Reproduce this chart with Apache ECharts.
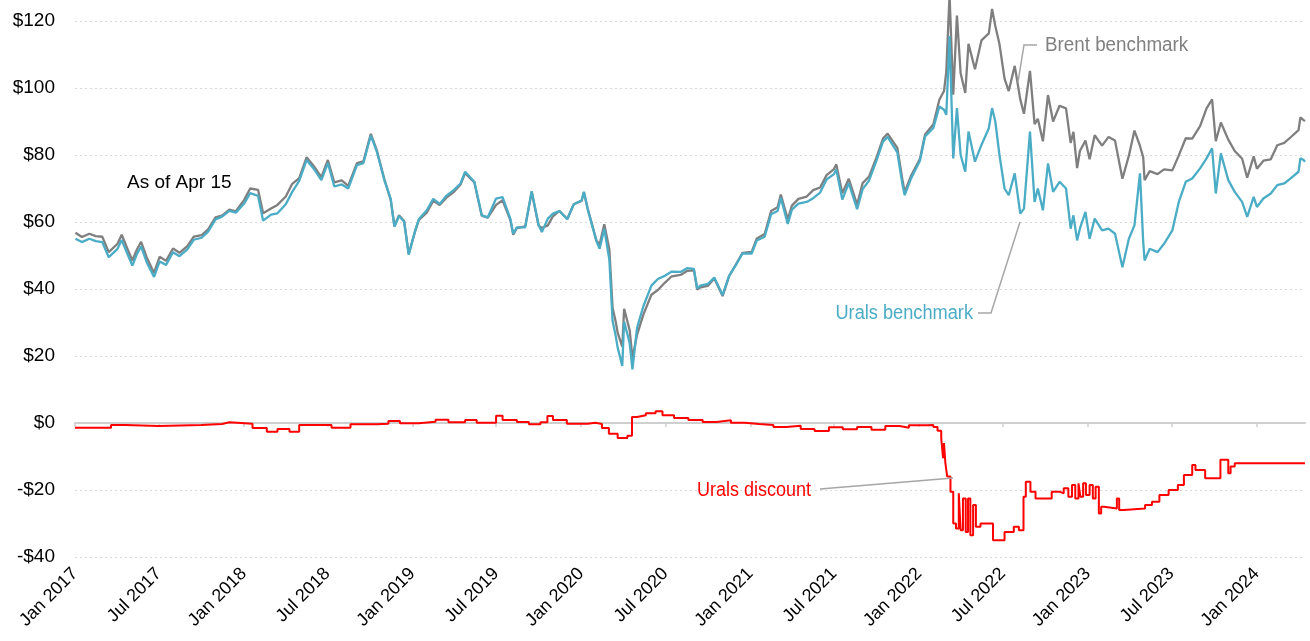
<!DOCTYPE html>
<html><head><meta charset="utf-8">
<script src="https://cdn.jsdelivr.net/npm/echarts@6/dist/echarts.min.js"></script>
<style>html,body{margin:0;padding:0;background:#fff}#c{width:1310px;height:641px}</style>
</head><body><div id="c"></div>
<script>
const dates = [
'2017-01-02','2017-01-16','2017-02-01','2017-02-15','2017-03-01','2017-03-15','2017-04-03','2017-04-12','2017-04-25','2017-05-05','2017-05-15','2017-05-24','2017-06-05','2017-06-21','2017-07-03','2017-07-17','2017-08-01','2017-08-15','2017-09-01','2017-09-15','2017-10-02','2017-10-16','2017-11-01','2017-11-15','2017-12-01','2017-12-15',
'2018-01-02','2018-01-15','2018-02-01','2018-02-12','2018-03-01','2018-03-15','2018-04-02','2018-04-16','2018-05-01','2018-05-17','2018-06-01','2018-06-18','2018-07-02','2018-07-16','2018-08-01','2018-08-15','2018-09-03','2018-09-17','2018-10-03','2018-10-16','2018-11-01','2018-11-15','2018-11-23','2018-12-03','2018-12-14','2018-12-24',
'2019-01-07','2019-01-15','2019-02-01','2019-02-15','2019-03-01','2019-03-15','2019-04-01','2019-04-15','2019-04-25','2019-05-15','2019-05-31','2019-06-13','2019-07-01','2019-07-15','2019-08-01','2019-08-07','2019-08-15','2019-09-02','2019-09-16','2019-10-01','2019-10-08','2019-10-21','2019-11-01','2019-11-15','2019-12-02','2019-12-16',
'2020-01-02','2020-01-07','2020-01-15','2020-02-03','2020-02-10','2020-02-20','2020-03-02','2020-03-09','2020-03-16','2020-03-20','2020-03-30','2020-04-03','2020-04-15','2020-04-21','2020-05-01','2020-05-15','2020-06-01','2020-06-15','2020-07-01','2020-07-15','2020-08-03','2020-08-17','2020-09-01','2020-09-08','2020-09-15','2020-10-01','2020-10-15','2020-11-02','2020-11-16','2020-12-01','2020-12-15',
'2021-01-04','2021-01-15','2021-02-01','2021-02-15','2021-03-01','2021-03-08','2021-03-23','2021-04-01','2021-04-15','2021-05-03','2021-05-17','2021-06-01','2021-06-15','2021-07-01','2021-07-06','2021-07-19','2021-08-02','2021-08-20','2021-09-01','2021-09-15','2021-10-01','2021-10-15','2021-10-25','2021-11-15','2021-11-26','2021-12-01','2021-12-15',
'2022-01-03','2022-01-14','2022-02-01','2022-02-14','2022-02-24','2022-03-01','2022-03-08','2022-03-16','2022-03-24','2022-04-01','2022-04-11','2022-04-18','2022-05-02','2022-05-16','2022-06-01','2022-06-08','2022-06-15','2022-06-24','2022-07-05','2022-07-14','2022-07-27','2022-08-08','2022-08-16','2022-08-29','2022-09-08','2022-09-15','2022-09-26','2022-10-07','2022-10-18','2022-11-01','2022-11-15','2022-11-25','2022-12-01','2022-12-09','2022-12-15','2022-12-27',
'2023-01-05','2023-01-16','2023-02-01','2023-02-15','2023-03-01','2023-03-17','2023-03-31','2023-04-12','2023-04-24','2023-05-01','2023-05-04','2023-05-15','2023-06-01','2023-06-15','2023-07-03','2023-07-17','2023-08-01','2023-08-15','2023-09-01','2023-09-15','2023-09-27','2023-10-05','2023-10-16','2023-11-01','2023-11-15','2023-12-01','2023-12-12','2023-12-26',
'2024-01-02','2024-01-16','2024-02-01','2024-02-15','2024-03-01','2024-03-15','2024-04-01','2024-04-05','2024-04-12','2024-04-15'
];
const brent = [
56.8,55.5,56.5,55.8,55.6,51.0,53.5,56.2,51.8,48.5,51.8,54.1,49.5,44.8,49.6,48.4,52.1,50.8,52.8,55.6,56.1,57.8,61.4,61.9,63.7,63.2,
66.6,70.0,69.6,62.6,64.0,65.1,67.6,71.4,73.1,79.3,76.8,73.4,78.5,71.8,72.4,70.8,77.6,78.1,86.3,81.4,72.9,66.6,58.8,62.0,60.3,50.5,
57.3,60.6,62.8,66.3,65.1,67.2,69.0,71.2,74.6,71.8,61.9,61.3,65.1,66.5,60.5,56.2,58.2,58.7,69.0,58.9,58.2,59.0,61.7,63.3,60.9,65.3,
66.3,68.9,64.0,54.5,53.3,59.3,51.9,34.4,30.1,26.9,22.8,34.1,27.7,19.3,26.4,32.5,38.3,39.7,42.0,43.8,44.2,45.4,45.6,39.8,40.5,40.9,43.2,37.9,43.8,47.4,50.8,
51.1,55.1,56.4,63.3,64.4,68.2,60.8,64.9,66.9,67.6,69.5,70.3,74.0,75.8,77.2,68.6,72.9,65.2,71.6,73.6,79.3,84.9,86.4,82.1,72.7,68.9,73.9,
78.9,86.1,89.2,96.5,99.1,104.9,127.9,98.0,121.6,104.4,98.5,113.2,105.6,114.2,116.3,123.6,118.5,113.1,102.8,99.1,106.6,96.6,92.3,105.1,89.2,90.8,84.1,97.9,90.0,94.7,93.9,83.6,86.9,76.1,81.2,84.3,
78.7,85.9,82.8,85.4,84.3,72.9,79.8,87.3,82.7,79.3,72.5,75.2,74.3,75.7,75.4,79.9,85.0,84.9,88.6,93.9,96.6,84.1,89.7,84.6,81.2,78.9,73.2,79.6,
75.9,78.3,78.7,82.9,83.6,85.3,87.4,91.2,90.4,90.1
];
const urals = [
55.0,54.0,55.0,54.3,54.0,49.5,52.0,54.6,50.3,47.0,50.4,52.7,48.0,43.6,48.2,47.2,51.0,49.8,51.8,54.7,55.3,57.1,60.8,61.6,63.3,62.8,
65.5,68.6,67.8,60.4,62.2,62.6,65.3,69.0,72.3,78.5,76.0,72.5,77.6,70.6,71.2,70.0,77.0,77.6,85.8,81.0,72.6,66.9,58.6,61.8,60.1,50.2,
57.5,60.9,63.5,66.9,65.4,67.8,69.6,71.5,75.0,72.0,62.0,61.4,67.0,67.4,60.9,56.5,58.4,58.4,69.2,59.1,57.0,61.0,62.5,63.3,60.8,65.3,
66.4,69.0,64.0,54.3,52.0,58.0,48.8,30.5,25.8,22.5,17.0,30.3,23.8,16.0,28.5,35.0,41.0,43.0,44.0,45.2,45.1,46.2,46.0,40.2,41.0,41.5,43.4,38.2,43.9,47.2,50.6,
50.6,54.5,55.6,62.3,63.3,67.2,59.4,63.7,65.5,66.0,67.1,68.8,72.7,74.3,75.7,66.7,71.6,63.8,69.8,72.4,78.3,84.0,85.4,80.8,71.3,68.0,73.1,
78.3,85.5,88.1,94.5,93.5,92.0,115.5,79.0,94.0,80.0,75.0,87.0,78.0,83.0,88.0,94.0,90.0,80.0,70.0,68.0,74.5,62.5,64.0,87.0,66.0,70.0,63.5,77.5,69.0,72.0,70.0,58.0,62.0,54.5,58.0,63.0,
55.0,61.0,57.5,58.0,56.5,46.5,55.0,59.0,74.5,54.0,48.5,52.0,51.0,53.5,57.5,66.0,72.0,73.0,76.0,79.0,82.0,68.5,80.5,72.5,69.0,66.0,61.5,67.5,
64.5,67.0,68.5,71.0,71.5,73.0,75.0,79.0,78.5,78.0
];
const discDates = [
'2017-01-01','2017-03-20','2017-04-20','2017-07-01','2017-10-01','2017-11-15','2017-12-01',
'2018-01-20','2018-02-20','2018-03-15','2018-04-10','2018-05-01','2018-07-10','2018-08-20','2018-10-15','2018-11-10','2018-12-05',
'2019-01-15','2019-02-20','2019-03-20','2019-04-25','2019-05-20','2019-07-01','2019-07-15','2019-08-15','2019-09-10','2019-10-05','2019-10-20','2019-11-01','2019-12-01',
'2020-01-15','2020-02-01','2020-02-15','2020-03-01','2020-03-20','2020-04-10','2020-04-20','2020-05-01','2020-05-20','2020-06-10','2020-06-25','2020-07-20','2020-08-20','2020-09-20','2020-10-20','2020-11-20','2020-12-20',
'2021-01-20','2021-02-20','2021-03-20','2021-04-20','2021-05-20','2021-06-20','2021-07-20','2021-08-20','2021-09-20','2021-10-20','2021-11-20','2021-12-10',
'2022-01-20','2022-02-01','2022-02-10','2022-02-18','2022-02-22','2022-02-24','2022-02-27','2022-03-03','2022-03-10','2022-03-16','2022-03-22','2022-03-28','2022-04-01','2022-04-06','2022-04-12','2022-04-17','2022-04-22','2022-04-28','2022-05-04','2022-05-14','2022-06-10','2022-07-05','2022-07-25','2022-08-05','2022-08-15','2022-08-20','2022-08-30','2022-09-10','2022-10-15','2022-11-01','2022-11-10','2022-11-20','2022-11-28','2022-12-05','2022-12-12','2022-12-16','2022-12-22','2022-12-28',
'2023-01-05','2023-01-12','2023-01-18','2023-01-25','2023-01-30','2023-02-05','2023-03-05','2023-03-10','2023-03-20','2023-05-05','2023-05-20','2023-06-05','2023-06-25','2023-07-15','2023-07-28','2023-08-15','2023-08-22','2023-09-12','2023-10-15','2023-11-01','2023-11-06','2023-11-15',
'2024-04-15'
];
const discount = [
-1.4,-0.6,-0.9,-0.6,-0.3,0.2,-0.2,
-1.5,-2.6,-1.8,-2.6,-0.6,-1.4,-0.4,-0.2,0.6,-0.1,
0.4,1.0,0.2,0.9,0.1,2.2,0.9,0.3,-0.4,0.2,2.1,0.9,-0.2,
0.1,-0.3,-1.5,-3.2,-4.5,-3.8,1.8,2.3,2.9,3.5,2.3,1.5,0.9,0.3,0.8,0.1,-0.3,
-0.6,-1.2,-0.8,-1.8,-2.4,-1.3,-1.9,-1.2,-2.0,-0.9,-1.4,-0.7,
-0.6,-1.2,-2.3,-4.5,-10.5,-6.0,-12.0,-16.0,-20.5,-30.0,-31.5,-21.0,-32.0,-22.5,-32.5,-22.5,-33.5,-24.5,-31.0,-30.0,-35.0,-32.5,-31.0,-32.0,-22.0,-17.5,-20.5,-22.5,-20.5,-21.0,-19.5,-22.0,-18.5,-22.5,-18.0,-22.0,-18.0,-21.5,
-18.5,-22.5,-19.0,-27.0,-25.0,-25.5,-22.5,-26.0,-25.5,-24.5,-23.5,-21.5,-20.0,-18.5,-15.5,-12.5,-14.0,-16.5,-11.0,-15.0,-13.0,-12.0,
-12.0
];
const tickDates = ['2017-01-01','2017-07-01','2018-01-01','2018-07-01','2019-01-01','2019-07-01','2020-01-01','2020-07-01','2021-01-01','2021-07-01','2022-01-01','2022-07-01','2023-01-01','2023-07-01','2024-01-01'];
const tickLabels = ['Jan 2017','Jul 2017','Jan 2018','Jul 2018','Jan 2019','Jul 2019','Jan 2020','Jul 2020','Jan 2021','Jul 2021','Jan 2022','Jul 2022','Jan 2023','Jul 2023','Jan 2024'];

if (dates.length !== brent.length || dates.length !== urals.length) throw new Error('len mismatch ' + dates.length + ' ' + brent.length + ' ' + urals.length);
if (discDates.length !== discount.length) throw new Error('disc len mismatch ' + discDates.length + ' ' + discount.length);

function ts(s){const p=s.split('-').map(Number);return Date.UTC(p[0],p[1]-1,p[2]);}
const tickTs = tickDates.map(ts);
const xMin = ts('2017-01-01'), xMax = ts('2024-04-15');
const regular = '"Liberation Sans",Arial,sans-serif';

const chart = echarts.init(document.getElementById('c'), null, {renderer:'canvas'});
chart.setOption({
  animation:false,
  backgroundColor:'#ffffff',
  grid:{left:75,right:5,top:21,bottom:84,containLabel:false,outerBoundsMode:'none'},
  xAxis:[
    {type:'value',min:xMin,max:xMax,position:'bottom',
     axisLine:{show:false,onZero:false},axisTick:{show:false},splitLine:{show:false},
     axisLabel:{customValues:tickTs,rotate:45,margin:14,color:'#000',fontFamily:regular,fontSize:18,
       formatter:function(v){const i=tickTs.indexOf(v);return i>=0?tickLabels[i]:'';}}},
    {type:'value',min:xMin,max:xMax,position:'top',
     axisLine:{show:true,onZero:true,lineStyle:{color:'#cfcfcf',width:2}},
     axisTick:{show:true,inside:true,length:4,customValues:tickTs,lineStyle:{color:'#cfcfcf',width:1.5}},
     axisLabel:{show:false},splitLine:{show:false}}
  ],
  yAxis:{type:'value',min:-40,max:120,interval:20,
    axisLine:{show:false},axisTick:{show:false},
    splitLine:{show:true,lineStyle:{color:'#d9d9d9',type:[2,3],width:1}},
    axisLabel:{margin:20,color:'#000',fontFamily:regular,fontSize:19,
      formatter:function(v){return v<0?'-$'+(-v):'$'+v;}}},
  series:[
    {type:'line',name:'Brent benchmark',data:dates.map((d,i)=>[ts(d),brent[i]]),
     symbol:'none',clip:false,silent:true,lineStyle:{color:'#7f7f7f',width:2.3},z:2},
    {type:'line',name:'Urals benchmark',data:dates.map((d,i)=>[ts(d),urals[i]]),
     symbol:'none',clip:false,silent:true,lineStyle:{color:'#4bacc6',width:2.3},z:3},
    {type:'line',name:'Urals discount',data:discDates.map((d,i)=>[ts(d),discount[i]]),
     symbol:'none',step:'end',silent:true,lineStyle:{color:'#ff0000',width:2},z:4}
  ],
  graphic:[
    {type:'polyline',z:100,shape:{points:[[1037,45],[1024,45],[1018,82]]},style:{stroke:'#a6a6a6',lineWidth:1.5,fill:null}},
    {type:'polyline',z:100,shape:{points:[[978,313],[991,313],[1020,222]]},style:{stroke:'#a6a6a6',lineWidth:1.5,fill:null}},
    {type:'polyline',z:100,shape:{points:[[820,489],[953,478]]},style:{stroke:'#a6a6a6',lineWidth:1.5,fill:null}},
    {type:'text',z:100,x:1045,y:45,scaleX:0.94,style:{text:'Brent benchmark',fill:'#808080',font:'20px '+regular,textAlign:'left',textVerticalAlign:'middle',align:'left',verticalAlign:'middle'}},
    {type:'text',z:100,x:973,y:313,scaleX:0.91,style:{text:'Urals benchmark',fill:'#4bacc6',font:'20px '+regular,textAlign:'right',textVerticalAlign:'middle',align:'right',verticalAlign:'middle'}},
    {type:'text',z:100,x:811,y:490,scaleX:0.9,style:{text:'Urals discount',fill:'#ff0000',font:'20px '+regular,textAlign:'right',textVerticalAlign:'middle',align:'right',verticalAlign:'middle'}},
    {type:'text',z:100,x:127,y:183,style:{text:'As of Apr 15',fill:'#000000',font:'19px '+regular,textAlign:'left',textVerticalAlign:'middle',align:'left',verticalAlign:'middle'}}
  ]
});
</script></body></html>
